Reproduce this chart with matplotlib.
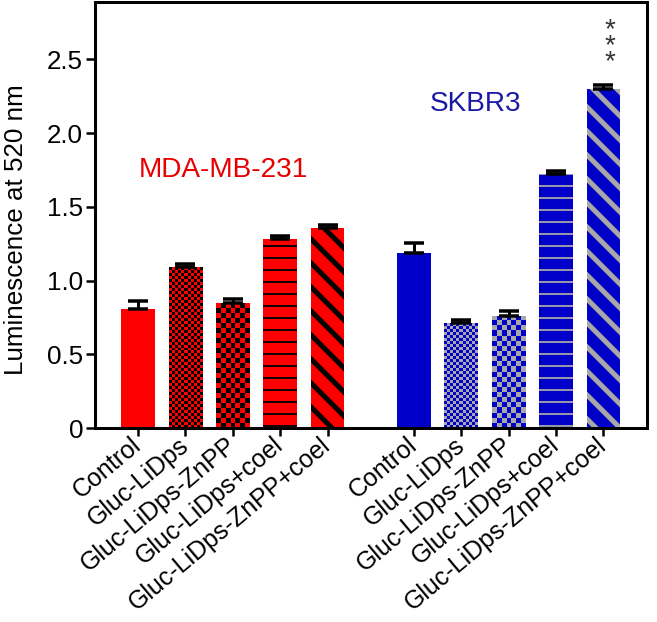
import numpy as np
import matplotlib.pyplot as plt
from matplotlib.colors import ListedColormap
from matplotlib.ticker import FixedLocator, FixedFormatter

plt.rcParams['font.family'] = ['Liberation Sans', 'DejaVu Sans']

# data
treatments = ["Control", "Gluc-LiDps", "Gluc-LiDps-ZnPP",
              "Gluc-LiDps+coel", "Gluc-LiDps-ZnPP+coel"]
mda_values = [0.81, 1.09, 0.845, 1.285, 1.355]
mda_errors = [0.05, 0.022, 0.032, 0.02, 0.02]
skbr_values = [1.19, 0.71, 0.76, 1.722, 2.298]
skbr_errors = [0.063, 0.023, 0.032, 0.023, 0.029]
yticks = [0, 0.5, 1.0, 1.5, 2.0, 2.5]
ytick_labels = ["0", "0.5", "1.0", "1.5", "2.0", "2.5"]
patterns = ["solid", "fine", "coarse", "hlines", "diag"]

RED = "#ff0000"
BLUE = "#0000c8"
GREY = "#a8a8a8"

DPI = 72
fig = plt.figure(figsize=(657 / DPI, 622 / DPI), dpi=DPI)
ax = fig.add_axes([95 / 657, (622 - 428) / 622, (647 - 95) / 657, (428 - 2) / 622])

group_gap = 5.82
x_mda = np.arange(len(treatments))
x_skbr = x_mda + group_gap
bar_w = 0.71

ax.set_xlim(-0.91, 10.74)
ax.set_ylim(0, 2.89)


def checker(bar, c1, c2, cell_px):
    # checkerboard fill clipped to the bar
    x0, w, h = bar.get_x(), bar.get_width(), bar.get_height()
    (px0, py0), (px1, py1) = ax.transData.transform([(x0, 0), (x0 + w, h)])
    nx = max(1, int(round((px1 - px0) / cell_px)))
    ny = max(1, int(round((py1 - py0) / cell_px)))
    grid = np.add.outer(np.arange(ny), np.arange(nx)) % 2
    im = ax.imshow(grid, cmap=ListedColormap([c1, c2]), extent=(x0, x0 + w, 0, h),
                   origin='lower', aspect='auto', interpolation='nearest', zorder=2.5)
    im.set_clip_path(bar)


def draw_group(xs, vals, errs, face, pat_color):
    for x, v, pat in zip(xs, vals, patterns):
        if pat == "hlines":
            plt.rcParams['hatch.linewidth'] = 1.8
            ax.bar(x, v, bar_w, color=face, edgecolor=pat_color, linewidth=0,
                   hatch='-', zorder=2)
        elif pat == "diag":
            plt.rcParams['hatch.linewidth'] = 5
            ax.bar(x, v, bar_w, color=face, edgecolor=pat_color, linewidth=0,
                   hatch='\\', zorder=2)
        else:
            b = ax.bar(x, v, bar_w, color=face, linewidth=0, zorder=2)[0]
            if pat == "fine":
                checker(b, face, pat_color, 3)
            elif pat == "coarse":
                checker(b, face, pat_color, 5)
    ax.errorbar(xs, vals, yerr=[np.zeros(len(errs)), errs], fmt='none',
                ecolor='black', elinewidth=3, capsize=10, capthick=3.5, zorder=3)


draw_group(x_mda, mda_values, mda_errors, RED, "black")
draw_group(x_skbr, skbr_values, skbr_errors, BLUE, GREY)

ax.set_xlim(-0.91, 10.74)
ax.set_ylim(0, 2.89)

# ticks
ax.yaxis.set_major_locator(FixedLocator(yticks))
ax.yaxis.set_major_formatter(FixedFormatter(ytick_labels))
ax.set_xticks(np.concatenate([x_mda, x_skbr]))
ax.set_xticklabels(treatments + treatments, rotation=40, ha='right',
                   va='center', rotation_mode='anchor', fontsize=25)
ax.tick_params(axis='y', labelsize=26, length=9, width=2.5, direction='out', pad=3)
ax.tick_params(axis='x', length=8, width=2.5, direction='out', pad=6)
for s in ax.spines.values():
    s.set_linewidth(3)

ax.set_ylabel("Luminescence at 520 nm", fontsize=26)
ax.yaxis.set_label_coords(-0.122, 0.465)

# group labels
ax.text(np.mean(x_mda) - 0.2, 1.75, "MDA-MB-231", color="#e80000", fontsize=28,
        ha='center', va='center')
ax.text(x_skbr[1] + 0.3, 2.2, "SKBR3", color="#1a1aa6", fontsize=28,
        ha='center', va='center')

# significance
ax.text(x_skbr[-1] + 0.14, skbr_values[-1] + skbr_errors[-1] + 0.26, "*\n*\n*",
        fontsize=28, color="#333333", ha='center', va='center', linespacing=0.5)

fig.savefig("out.png", dpi=DPI)
